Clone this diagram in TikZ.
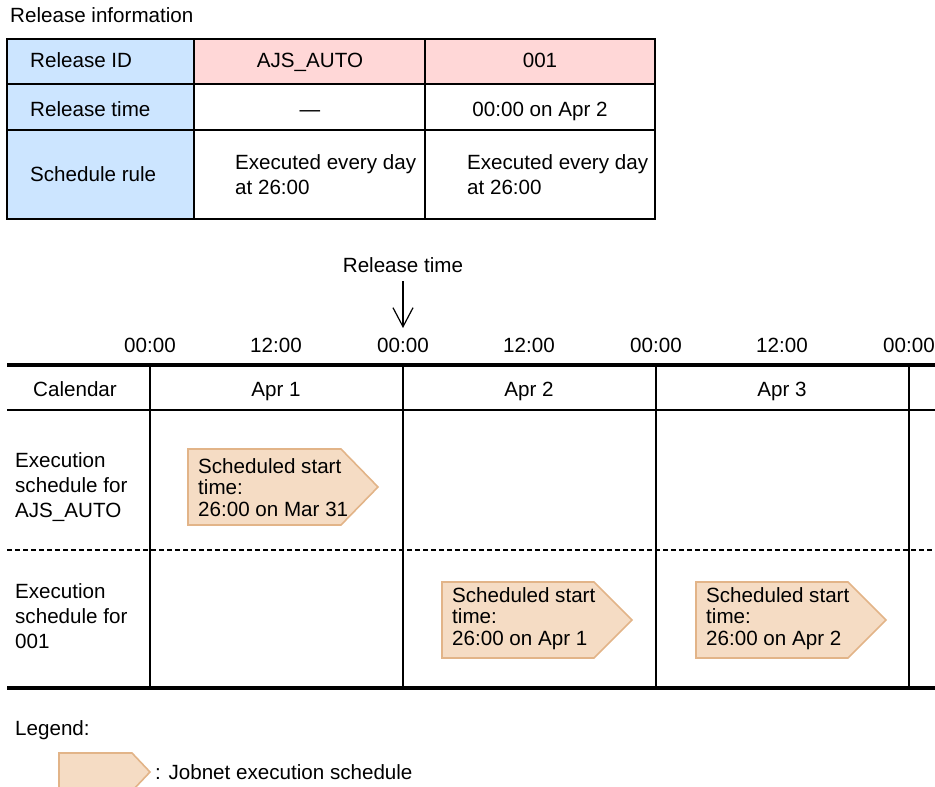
\documentclass[tikz,border=0pt]{standalone}
\usepackage{fontspec}
\setmainfont{Liberation Sans}
\usetikzlibrary{arrows.meta}
\definecolor{headblue}{HTML}{CCE5FF}
\definecolor{headpink}{HTML}{FFD7D7}
\definecolor{jobfill}{HTML}{F5DCC4}
\definecolor{jobedge}{HTML}{E2B488}
\begin{document}
\begin{tikzpicture}[x=1pt,y=-1pt,
  txt/.style={inner sep=0pt,font=\fontsize{20.6}{25}\selectfont},
  % single-line labels sit on a baseline 7.4pt below the given centre
  lefttxt/.style={txt,anchor=base west,yshift=-7.4pt},
  celltxt/.style={txt,anchor=base,yshift=-7.4pt},
  multitxt/.style={txt,anchor=west,align=left},
  grid/.style={line width=1.6pt},
  boldrule/.style={line width=3.6pt},
  jobbox/.style={fill=jobfill,draw=jobedge,line width=1.6pt,line join=miter},
  jobtxt/.style={txt,anchor=north west,align=left,font=\fontsize{20.6}{21.5}\selectfont}]
\useasboundingbox (0,0) rectangle (935,787);

% ---- release information table ----
\node[lefttxt] (title) at (10,15) {Release information};
\fill[headblue] (7,39) rectangle (194,219);
\fill[headpink] (194,39) rectangle (655,84);
\draw[grid] (7,39) rectangle (655,219);
\draw[grid] (7,84) -- (655,84);
\draw[grid] (7,130) -- (655,130);
\draw[grid] (194,39) -- (194,219);
\draw[grid] (425,39) -- (425,219);

\node[lefttxt] (hid)   at (30,60)  {Release ID};
\node[celltxt] (idA)   at (310,60) {AJS\_AUTO};
\node[celltxt] (idB)   at (540,60) {001};
\node[lefttxt] (htime) at (30,109) {Release time};
\node[celltxt] (timeA) at (310,109) {―};
\node[celltxt] (timeB) at (540,109) {00:00 on Apr 2};
\node[lefttxt] (hrule) at (30,174) {Schedule rule};
\node[multitxt] (ruleA) at (235,175) {Executed every day\\at 26:00};
\node[multitxt] (ruleB) at (467,175) {Executed every day\\at 26:00};

% ---- release time marker ----
\node[celltxt] (rel) at (403,265) {Release time};
\coordinate (relTop) at (403,281);
\coordinate (relTip) at (403,328);
\draw[line width=1.2pt,-{Straight Barb[length=19pt,width=20pt,line width=1.2pt]}] (relTop) -- (relTip);

% ---- time scale ----
\foreach \x/\t [count=\i] in {150/00:00,276/12:00,403/00:00,529/12:00,656/00:00,782/12:00,909/00:00}
  \node[celltxt] (tick\i) at (\x,345) {\t};

% ---- calendar grid ----
\draw[boldrule] (7,365) -- (935,365);
\draw[boldrule] (7,688) -- (935,688);
\draw[line width=1.4pt] (7,410) -- (935,410);
\draw[line width=1.6pt,dash pattern=on 5pt off 3pt] (7,550) -- (935,550);
\foreach \x in {150,403,656,909}
  \draw[grid] (\x,365) -- (\x,688);

\node[celltxt] (cal) at (75,389) {Calendar};
\node[celltxt] (d1) at (276,389) {Apr 1};
\node[celltxt] (d2) at (529,389) {Apr 2};
\node[celltxt] (d3) at (782,389) {Apr 3};

\node[multitxt] (rowA) at (15,487) {Execution\\schedule for\\AJS\_AUTO};
\node[multitxt] (rowB) at (15,616) {Execution\\schedule for\\001};

% ---- jobnet execution schedules ----
\draw[jobbox] (188,449) -- (341,449) -- (378,487) -- (341,525) -- (188,525) -- cycle;
\node[jobtxt] (jobA) at (198,458) {Scheduled start\\time:\\26:00 on Mar 31};

\draw[jobbox] (442,582) -- (594,582) -- (632,620) -- (594,658) -- (442,658) -- cycle;
\node[jobtxt] (jobB) at (452,587) {Scheduled start\\time:\\26:00 on Apr 1};

\draw[jobbox] (696,582) -- (848,582) -- (886,620) -- (848,658) -- (696,658) -- cycle;
\node[jobtxt] (jobC) at (706,587) {Scheduled start\\time:\\26:00 on Apr 2};

% ---- legend ----
\node[lefttxt] (leg) at (15,728) {Legend:};
\draw[jobbox] (59,753) -- (132,753) -- (150,772) -- (132,791) -- (59,791) -- cycle;
\node[lefttxt] (legtxt) at (155,772) {: Jobnet execution schedule};
\end{tikzpicture}
\end{document}
